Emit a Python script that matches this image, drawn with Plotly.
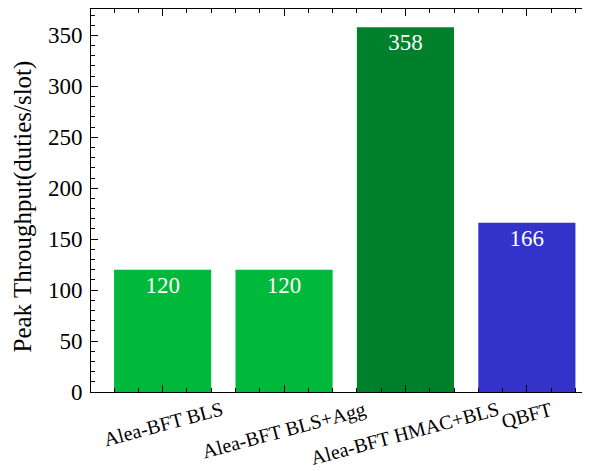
import plotly.graph_objects as go

categories = ["Alea-BFT BLS", "Alea-BFT BLS+Agg", "Alea-BFT HMAC+BLS", "QBFT"]
values = [120, 120, 358, 166]
colors = ["#00b83a", "#00b83a", "#00802b", "#3333cc"]
y_ticks = [0, 50, 100, 150, 200, 250, 300, 350]

FONT = "Liberation Serif"
xs = list(range(len(categories)))

# page has default 8px body margin -> figure offset by 8px
W, H = 582, 463

fig = go.Figure()
fig.add_trace(go.Bar(
    x=xs, y=values, width=0.8,
    marker=dict(color=colors, line=dict(width=0)),
    text=[str(v) for v in values],
    textposition="inside", insidetextanchor="end",
    textfont=dict(family=FONT, size=23, color="white"),
    cliponaxis=False,
))

for i, c in enumerate(categories):
    fig.add_annotation(
        x=i, y=0, xref="x", yref="paper", yshift=-3,
        text=c, showarrow=False, textangle=-15,
        xanchor="center", yanchor="top",
        font=dict(family=FONT, size=20, color="black"),
    )

fig.add_annotation(
    x=0, y=0.5, xref="paper", yref="paper", xshift=-69, yshift=-6,
    text="Peak Throughput(duties/slot)", showarrow=False, textangle=-90,
    xanchor="center", yanchor="middle",
    font=dict(family=FONT, size=25, color="black"),
)

fig.update_layout(
    width=W, height=H,
    margin=dict(l=83, r=0, t=1, b=79),
    plot_bgcolor="white", paper_bgcolor="white",
    showlegend=False,
    font=dict(family=FONT, size=20, color="black"),
    bargap=0.2,
)
fig.update_xaxes(
    range=[-0.59, 3.52], automargin=False,
    tickmode="array", tickvals=xs, ticktext=["" for _ in xs],
    ticks="inside", ticklen=7, tickwidth=1, tickcolor="black",
    showline=True, linecolor="black", linewidth=1, mirror="ticks",
    showgrid=False, zeroline=False,
    minor=dict(dtick=0.2, tick0=0, ticks="inside", ticklen=4, tickwidth=1, tickcolor="black", showgrid=False),
)
fig.update_yaxes(
    range=[0, 375.9], automargin=False,
    tickmode="array", tickvals=y_ticks,
    ticks="inside", ticklen=7, tickwidth=1, tickcolor="black",
    showline=True, linecolor="black", linewidth=1, mirror=False,
    showgrid=False, zeroline=False,
    tickfont=dict(family=FONT, size=23),
    ticklabelstandoff=3,
    minor=dict(dtick=10, tick0=0, ticks="inside", ticklen=4, tickwidth=1, tickcolor="black", showgrid=False),
)

fig.write_html("out.html")
